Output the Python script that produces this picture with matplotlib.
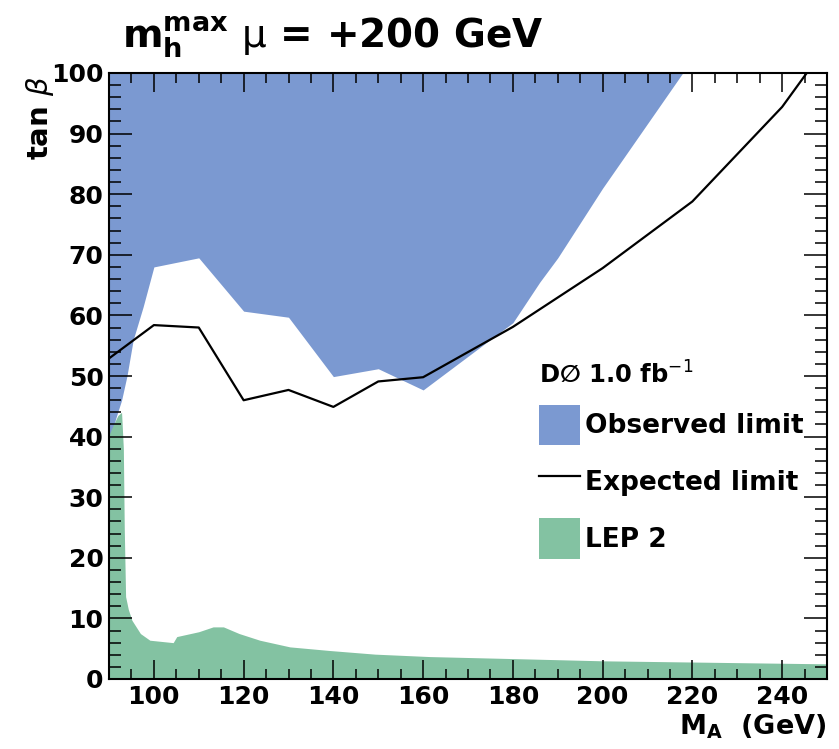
import matplotlib
matplotlib.use("Agg")
import matplotlib.pyplot as plt
from matplotlib.patches import Patch
from matplotlib.lines import Line2D
from matplotlib.ticker import MultipleLocator

# observed exclusion (region above the curve is excluded)
obs_mass = [90, 91.5, 92.8, 94, 95.4, 97.6, 100, 110, 120, 130, 140, 150, 160, 180, 186, 190, 200, 220]
obs_tanb = [39, 43, 46, 50, 56, 61.4, 68, 69.5, 60.7, 59.7, 49.9, 51.2, 47.7, 58.8, 65.5, 69.5, 81, 102.3]

# expected limit
exp_mass = [90, 100, 110, 120, 130, 140, 150, 160, 180, 200, 220, 240, 250]
exp_tanb = [52.9, 58.4, 58.0, 46.0, 47.7, 44.9, 49.1, 49.8, 58.1, 67.8, 78.8, 94.4, 104.6]

# LEP 2 excluded region
lep_mass = [90, 91, 92, 92.8, 93.2, 93.4, 93.7, 94.3, 95.1, 97, 99.1, 104.3, 105.1, 110,
            113.2, 115.5, 119, 123.6, 130.3, 139.2, 149.3, 161.5, 183.8, 200, 220, 250]
lep_tanb = [40.3, 42, 43.5, 44, 38, 25, 13.6, 11.5, 9.7, 7.5, 6.4, 6.0, 7.0, 7.8,
            8.6, 8.6, 7.5, 6.4, 5.3, 4.7, 4.1, 3.7, 3.3, 3.0, 2.8, 2.5]

xticks = [100, 120, 140, 160, 180, 200, 220, 240]
yticks = [0, 10, 20, 30, 40, 50, 60, 70, 80, 90, 100]

blue = "#7b99d1"
green = "#83c2a2"

W, H = 839, 749
fig = plt.figure(figsize=(W / 100, H / 100), dpi=100)
ax = fig.add_axes([109 / W, 1 - 679 / H, 718 / W, 606 / H])

ax.fill_between(obs_mass, obs_tanb, 110, color=blue, lw=0)
ax.fill_between(lep_mass, 0, lep_tanb, color=green, lw=0)
ax.plot(exp_mass, exp_tanb, color="black", lw=1.6)

ax.set_xlim(90, 250)
ax.set_ylim(0, 100)
ax.set_xticks(xticks)
ax.set_yticks(yticks)
ax.xaxis.set_minor_locator(MultipleLocator(5))
ax.yaxis.set_minor_locator(MultipleLocator(2))
ax.tick_params(which="both", direction="in", top=True, right=True, width=1.1,
               labelsize=18)
ax.tick_params(axis="x", which="major", length=13.7, pad=4)
ax.tick_params(axis="x", which="minor", length=7.5)
ax.tick_params(axis="y", which="major", length=16.5, pad=4)
ax.tick_params(axis="y", which="minor", length=8.6)
for lab in ax.get_xticklabels() + ax.get_yticklabels():
    lab.set_fontweight("bold")
for sp in ax.spines.values():
    sp.set_linewidth(1.5)

ax.set_xlabel(r"M$_{\mathbf{A}}$  (GeV)", fontsize=19.5, fontweight="bold",
              ha="right", va="baseline")
ax.xaxis.set_label_coords(1.0, -0.091)
ax.set_ylabel(r"tan $\beta$", fontsize=21, fontweight="bold",
              ha="right", va="center")
ax.yaxis.set_label_coords(-0.096, 0.995)

fig.text(122 / W, 1 - 47 / H,
         r"$\mathbf{m}_{\mathbf{h}}^{\mathbf{max}}$ $\mathrm{\mu}$ = +200 GeV",
         fontsize=28, fontweight="bold", ha="left", va="baseline")

handles = [Patch(facecolor=blue, edgecolor="none"),
           Line2D([], [], color="black", lw=1.6),
           Patch(facecolor=green, edgecolor="none")]
labels = ["Observed limit", "Expected limit", "LEP 2"]
leg = ax.legend(handles, labels, title="D\u2205 1.0 fb$^{-1}$",
                loc="upper left", bbox_to_anchor=(539 / W, 1 - 361 / H),
                bbox_transform=fig.transFigure, frameon=False,
                prop={"weight": "bold", "size": 19},
                title_fontproperties={"weight": "bold", "size": 17.5},
                alignment="left", borderpad=0, borderaxespad=0,
                handlelength=1.55, handleheight=1.98, handletextpad=0.2,
                labelspacing=0.62)

fig.savefig("out.png", dpi=100)
